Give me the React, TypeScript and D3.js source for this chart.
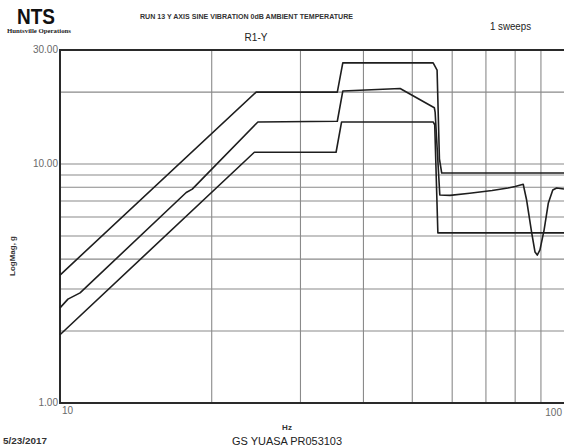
import React, { useEffect, useRef } from "react";
import * as d3 from "d3";

// Sine sweep response, Y axis, frequency (Hz) vs acceleration (g)
const upperAbortHz = [10, 24.5, 35.5, 36.4, 55.0, 56.0, 56.6, 57.2, 100];
const upperAbortG = [3.43, 20.0, 20.0, 26.5, 26.5, 24.7, 10.5, 9.17, 9.17];

const controlHz = [
  10, 10.37, 10.96, 17.8, 18.3, 24.7, 35.5, 36.4, 47.3, 55.3, 55.5, 56.7, 59.4,
  65, 72, 77.4, 80, 83.0, 84.3, 86.3, 87.6, 88.5, 89.6, 91.3, 93.1, 95.0, 96.7,
  100,
];
const controlG = [
  2.5, 2.72, 2.89, 7.6, 7.85, 15.0, 15.1, 20.2, 20.7, 17.2, 16.5, 7.42, 7.39,
  7.55, 7.75, 7.94, 8.05, 8.23, 7.07, 5.14, 4.28, 4.16, 4.37, 5.29, 6.87, 7.78,
  7.94, 7.86,
];

const lowerAbortHz = [10, 24.3, 35.3, 36.2, 55.0, 55.4, 56.2, 100];
const lowerAbortG = [1.93, 11.2, 11.2, 15.0, 15.0, 14.6, 5.15, 5.15];

const freqGrid = [20, 30, 40, 50, 60, 70, 80, 90];
const gGrid = [2, 3, 4, 5, 6, 7, 8, 9, 10, 20];
const gTickLabels: [number, string][] = [
  [30, "30.00"],
  [10, "10.00"],
  [1, "1.00"],
];
const freqTickLabels: [number, string][] = [
  [10, "10"],
  [100, "100"],
];

const W = 564;
const H = 448;
const plot = { left: 60, right: 564, top: 50, bottom: 403 };

const narrow = "'Liberation Sans Narrow', 'Arial Narrow', 'Liberation Sans', Arial, sans-serif";
const sans = "'Liberation Sans', Arial, sans-serif";

export default function App() {
  const ref = useRef<SVGGElement>(null);

  useEffect(() => {
    const root = d3.select(ref.current);
    root.selectAll("*").remove();

    const x = d3.scaleLog().domain([10, 100]).range([plot.left, plot.right]);
    const y = d3.scaleLog().domain([1, 30]).range([plot.bottom, plot.top]);

    // grid
    const grid = root.append("g").attr("stroke", "#8a8a8a").attr("stroke-width", 1.1);
    grid
      .selectAll("line.v")
      .data(freqGrid)
      .join("line")
      .attr("class", "v")
      .attr("x1", (d) => x(d))
      .attr("x2", (d) => x(d))
      .attr("y1", plot.top)
      .attr("y2", plot.bottom);
    grid
      .selectAll("line.h")
      .data(gGrid)
      .join("line")
      .attr("class", "h")
      .attr("x1", plot.left)
      .attr("x2", plot.right)
      .attr("y1", (d) => y(d))
      .attr("y2", (d) => y(d));

    // frame
    const frame = root.append("g").attr("stroke", "#2a2a2a").attr("stroke-width", 2).attr("fill", "none");
    frame.append("line").attr("x1", plot.left).attr("x2", plot.right).attr("y1", plot.top).attr("y2", plot.top);
    frame.append("line").attr("x1", plot.left).attr("x2", plot.right).attr("y1", plot.bottom).attr("y2", plot.bottom);
    frame.append("line").attr("x1", plot.left).attr("x2", plot.left).attr("y1", plot.top - 1).attr("y2", plot.bottom + 1);

    // curves
    const line = d3
      .line<[number, number]>()
      .x((d) => x(d[0]))
      .y((d) => y(d[1]));
    const series = [
      d3.zip(upperAbortHz, upperAbortG) as [number, number][],
      d3.zip(controlHz, controlG) as [number, number][],
      d3.zip(lowerAbortHz, lowerAbortG) as [number, number][],
    ];
    root
      .append("g")
      .selectAll("path")
      .data(series)
      .join("path")
      .attr("d", (d) => line(d))
      .attr("fill", "none")
      .attr("stroke", "#1e1e1e")
      .attr("stroke-width", 1.6)
      .attr("stroke-linejoin", "round");

    // tick labels
    root
      .append("g")
      .selectAll("text")
      .data(gTickLabels)
      .join("text")
      .attr("x", plot.left - 2)
      .attr("y", (d) => y(d[0]) + 3)
      .attr("text-anchor", "end")
      .attr("font-family", narrow)
      .attr("font-size", 10)
      .attr("fill", "#6a6a6a")
      .text((d) => d[1]);
    root
      .append("g")
      .selectAll("text")
      .data(freqTickLabels)
      .join("text")
      .attr("x", (d) => (d[0] === 10 ? x(d[0]) + 2 : x(d[0]) - 2))
      .attr("y", (d) => (d[0] === 10 ? plot.bottom + 11 : plot.bottom + 13))
      .attr("text-anchor", (d) => (d[0] === 10 ? "start" : "end"))
      .attr("font-family", narrow)
      .attr("font-size", 10)
      .attr("fill", "#6a6a6a")
      .text((d) => d[1]);
  }, []);

  return (
    <svg
      width={W}
      height={H}
      style={{ position: "absolute", left: 0, top: 0, display: "block", background: "#fff" }}
    >
      <rect width={W} height={H} fill="#fff" />
      <g ref={ref} />
      <text x={17} y={24} fontFamily={sans} fontWeight="bold" fontSize={22} fill="#111" textLength={38} lengthAdjust="spacingAndGlyphs">
        NTS
      </text>
      <text x={7} y={33} fontFamily="'Liberation Serif', serif" fontWeight="bold" fontSize={6} fill="#222" textLength={64} lengthAdjust="spacingAndGlyphs">
        Huntsville Operations
      </text>
      <text x={140} y={19} fontFamily={narrow} fontWeight="bold" fontSize={8} fill="#333" textLength={213} lengthAdjust="spacingAndGlyphs">
        RUN 13 Y AXIS SINE VIBRATION 0dB AMBIENT TEMPERATURE
      </text>
      <text x={256} y={41} fontFamily={sans} fontSize={10} fill="#222" textAnchor="middle">
        R1-Y
      </text>
      <text x={490} y={30} fontFamily={sans} fontSize={10} fill="#222" textLength={41} lengthAdjust="spacingAndGlyphs">
        1 sweeps
      </text>
      <text
        transform="translate(15,256) rotate(-90)"
        fontFamily={narrow}
        fontWeight="bold"
        fontSize={8}
        fill="#333"
        textAnchor="middle"
      >
        LogMag, g
      </text>
      <text x={287} y={430} fontFamily={sans} fontWeight="bold" fontSize={8} fill="#333" textAnchor="middle">
        Hz
      </text>
      <text x={3} y={444} fontFamily={narrow} fontWeight="bold" fontSize={9} fill="#333" textLength={44} lengthAdjust="spacingAndGlyphs">
        5/23/2017
      </text>
      <text x={232} y={445} fontFamily={sans} fontSize={10} fill="#222" textLength={110} lengthAdjust="spacingAndGlyphs">
        GS YUASA PR053103
      </text>
    </svg>
  );
}
